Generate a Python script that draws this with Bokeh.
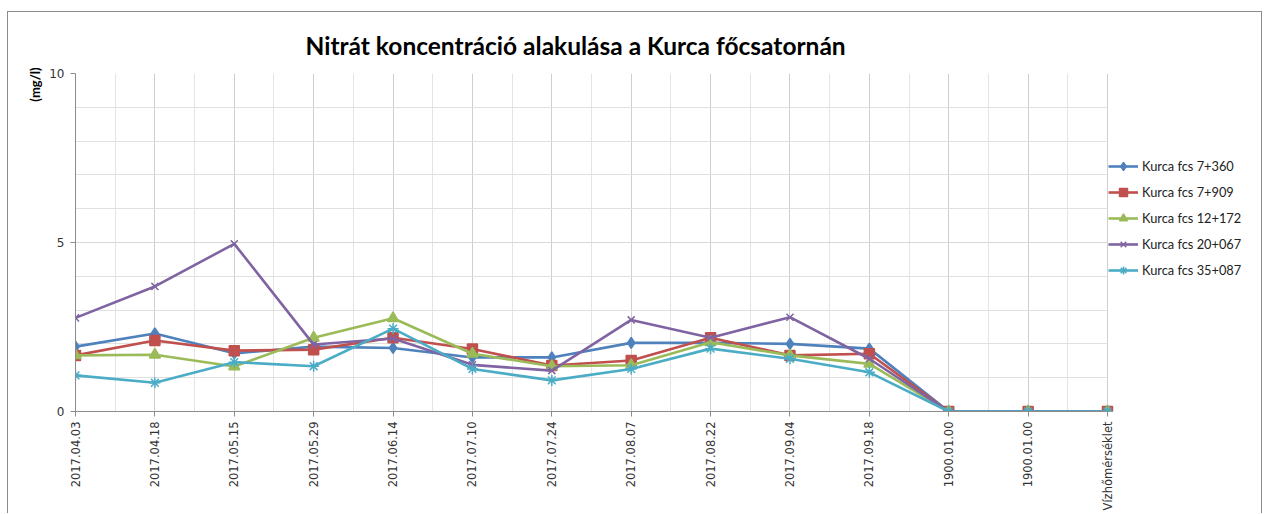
import math
from bokeh.plotting import figure
from bokeh.models import Range1d, FixedTicker, Legend, LegendItem, Title, Grid
from bokeh.embed import file_html
from bokeh.resources import INLINE

categories = ["2017.04.03", "2017.04.18", "2017.05.15", "2017.05.29", "2017.06.14",
              "2017.07.10", "2017.07.24", "2017.08.07", "2017.08.22", "2017.09.04",
              "2017.09.18", "1900.01.00", "1900.01.00", "Vízhőmérséklet"]

s_7360 = [1.92, 2.31, 1.72, 1.92, 1.88, 1.60, 1.60, 2.03, 2.03, 2.00, 1.86, 0, 0, 0]
s_7909 = [1.66, 2.10, 1.80, 1.83, 2.18, 1.85, 1.36, 1.51, 2.18, 1.66, 1.71, 0, 0, 0]
s_12172 = [1.66, 1.68, 1.33, 2.18, 2.76, 1.71, 1.34, 1.37, 2.05, 1.66, 1.41, 0, 0, 0]
s_20067 = [2.77, 3.70, 4.96, 1.98, 2.16, 1.38, 1.21, 2.71, 2.18, 2.79, 1.56, 0, 0, 0]
s_35087 = [1.07, 0.85, 1.46, 1.34, 2.45, 1.26, 0.92, 1.26, 1.86, 1.56, 1.16, 0, 0, 0]

series_names = ["Kurca fcs 7+360", "Kurca fcs 7+909", "Kurca fcs 12+172",
                "Kurca fcs 20+067", "Kurca fcs 35+087"]
y_ticks = [0, 5, 10]
y_grid_steps = list(range(11))

title_text = "Nitrát koncentráció alakulása a Kurca főcsatornán"
y_label = "(mg/l)"

colors = ["#4F81BD", "#C0504D", "#9BBB59", "#8064A2", "#4BACC6"]
markers = ["diamond", "square", "triangle", "x", "asterisk"]
msizes = [11, 10, 11, 10, 11]

xs = list(range(len(categories)))
n_last = len(categories) - 1

# layout (pixels)
W, H = 1255, 502
left_b, top_b, bottom_b, right_b = 67, 61, 103, 5
plot_px = 1032                      # width of the drawn category area
frame_px = W - left_b - right_b     # frame also hosts the legend on its right
x_end = n_last * frame_px / plot_px

p = figure(width=W, height=H, output_backend="svg", toolbar_location=None,
           x_range=Range1d(0, x_end), y_range=Range1d(0, 10),
           min_border_left=left_b, min_border_right=right_b, min_border_top=top_b,
           min_border_bottom=bottom_b)
p.outline_line_color = None
p.background_fill_color = "white"
p.border_fill_color = "white"
p.styles = {"margin-left": "7px", "margin-top": "11px",
            "border-left": "1px solid #8c8c8c", "border-top": "1px solid #8c8c8c",
            "border-right": "1px solid #8c8c8c"}

# x axis
p.xaxis.ticker = FixedTicker(ticks=xs, minor_ticks=[i + 0.5 for i in xs[:-1]])
p.xaxis.bounds = (0, n_last)
p.xaxis.major_label_overrides = {i: c for i, c in enumerate(categories)}
p.xaxis.major_label_orientation = math.pi / 2
p.xaxis.major_label_text_font = "DejaVu Sans"
p.xaxis.major_label_text_font_size = "11.5px"
p.xaxis.major_label_text_color = "#333333"
p.xaxis.major_label_standoff = 5
p.xaxis.axis_line_color = "#8c8c8c"
p.xaxis.major_tick_line_color = "#8c8c8c"
p.xaxis.major_tick_out = 5
p.xaxis.major_tick_in = 0
p.xaxis.minor_tick_line_color = None

# y axis
p.yaxis.ticker = FixedTicker(ticks=y_ticks, minor_ticks=y_grid_steps)
p.yaxis.major_label_text_font = "DejaVu Sans"
p.yaxis.major_label_text_font_size = "12px"
p.yaxis.major_label_text_color = "#333333"
p.yaxis.major_label_standoff = 6
p.yaxis.axis_line_color = "#8c8c8c"
p.yaxis.major_tick_line_color = "#8c8c8c"
p.yaxis.major_tick_out = 5
p.yaxis.major_tick_in = 0
p.yaxis.minor_tick_line_color = None

# grids
p.xgrid.grid_line_color = "#cfcfcf"
p.xgrid.minor_grid_line_color = "#e4e4e4"
if "cross_bounds" in Grid.properties():
    p.ygrid.grid_line_color = "#d9d9d9"
    p.ygrid.minor_grid_line_color = "#e0e0e0"
    p.ygrid.cross_bounds = (0, n_last)
else:
    p.ygrid.grid_line_color = None
    p.segment(x0=[0] * len(y_grid_steps), x1=[n_last] * len(y_grid_steps),
              y0=y_grid_steps, y1=y_grid_steps, line_color="#dcdcdc", line_width=1)

all_series = [s_7360, s_7909, s_12172, s_20067, s_35087]
items = []
for name, ys, c, m, ms in zip(series_names, all_series, colors, markers, msizes):
    r1 = p.line(xs, ys, line_color=c, line_width=2.6)
    r2 = p.scatter(xs, ys, marker=m, size=ms, fill_color=c, line_color=c, line_width=1.5)
    items.append(LegendItem(label=name, renderers=[r1, r2]))

legend = Legend(items=items, location=(plot_px + 1, 131), padding=0, margin=0,
                border_line_color=None, background_fill_alpha=0,
                glyph_width=30, glyph_height=20, spacing=6, label_standoff=4,
                label_text_font="Lato", label_text_font_size="12.8px",
                label_text_color="#222222")
p.add_layout(legend)

p.add_layout(Title(text=title_text, align="left", offset=230, standoff=28,
                   text_font="Lato", text_font_style="bold",
                   text_font_size="24.5px", text_color="#000000"), "above")
p.add_layout(Title(text=y_label, align="right", offset=-6, standoff=7,
                   text_font="Lato", text_font_style="bold",
                   text_font_size="13px", text_color="#000000"), "left")

open("out.html", "w").write(file_html(p, INLINE))
